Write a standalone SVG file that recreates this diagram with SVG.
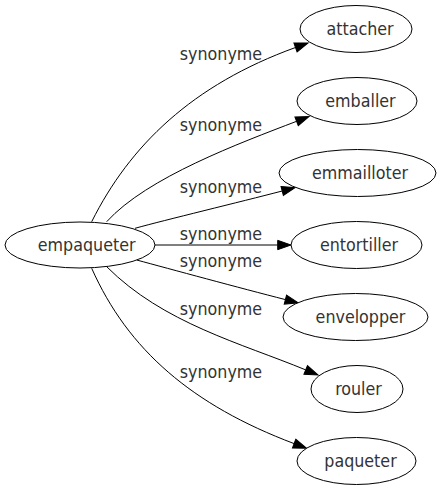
<svg xmlns="http://www.w3.org/2000/svg" width="439" height="491" viewBox="0 0 439 491">
<defs>
<style>
.node ellipse{fill:#fff;stroke:#000;stroke-width:1}
.node text,.lbl{font-family:"DejaVu Sans Condensed","DejaVu Sans",sans-serif;font-size:17.7px;fill:#333;text-anchor:middle}
.edges path{fill:none;stroke:#000;stroke-width:1;marker-end:url(#arr)}
</style>
<marker id="arr" markerUnits="userSpaceOnUse" markerWidth="14" markerHeight="10" refX="0" refY="4.67" orient="auto" overflow="visible">
<path d="M0,0 L13.3,4.67 L0,9.33 z" fill="#000" stroke="#000" stroke-width="1"/>
</marker>
</defs>
<rect width="439" height="491" fill="#fff"/>
<g id="edges" class="edges">
<path d="M91.7,221.7 C129.7,145.7 192.1,84.9 295.5,47.5"/>
<path d="M106.7,221.7 C146.9,177.3 240.6,142.8 296.6,121.3"/>
<path d="M135,228.3 C165,220 240,202 282.2,191"/>
<path d="M155,245 L277.7,245"/>
<path d="M136.7,260 C170,269 240,288 285.4,299.6"/>
<path d="M106.7,266.7 C163.3,323.3 241,343.2 305.7,369.9"/>
<path d="M91.7,268.3 C128,350 192.1,405.1 294.1,443.6"/>
<text class="lbl" x="221" y="59.5">synonyme</text>
<text class="lbl" x="221" y="130.7">synonyme</text>
<text class="lbl" x="221" y="193.3">synonyme</text>
<text class="lbl" x="221" y="240">synonyme</text>
<text class="lbl" x="221" y="266.7">synonyme</text>
<text class="lbl" x="221" y="315">synonyme</text>
<text class="lbl" x="221" y="378.3">synonyme</text>
</g>
<g id="empaqueter" class="node"><ellipse cx="80" cy="245" rx="75" ry="23"/><text x="86.7" y="250.5">empaqueter</text></g>
<g id="attacher" class="node"><ellipse cx="356" cy="29" rx="56" ry="23.5"/><text x="360" y="34.5">attacher</text></g>
<g id="emballer" class="node"><ellipse cx="357" cy="101" rx="60" ry="23.5"/><text x="360.5" y="106.5">emballer</text></g>
<g id="emmailloter" class="node"><ellipse cx="357.5" cy="173" rx="78.5" ry="23.5"/><text x="360" y="178.5">emmailloter</text></g>
<g id="entortiller" class="node"><ellipse cx="356.5" cy="245" rx="65.5" ry="23.5"/><text x="359" y="250.5">entortiller</text></g>
<g id="envelopper" class="node"><ellipse cx="355.5" cy="317" rx="72.5" ry="23.5"/><text x="360.5" y="322.5">envelopper</text></g>
<g id="rouler" class="node"><ellipse cx="357" cy="389" rx="46" ry="23.5"/><text x="358.5" y="394.5">rouler</text></g>
<g id="paqueter" class="node"><ellipse cx="356.5" cy="461" rx="59.5" ry="23.5"/><text x="360.5" y="466.5">paqueter</text></g>
</svg>
